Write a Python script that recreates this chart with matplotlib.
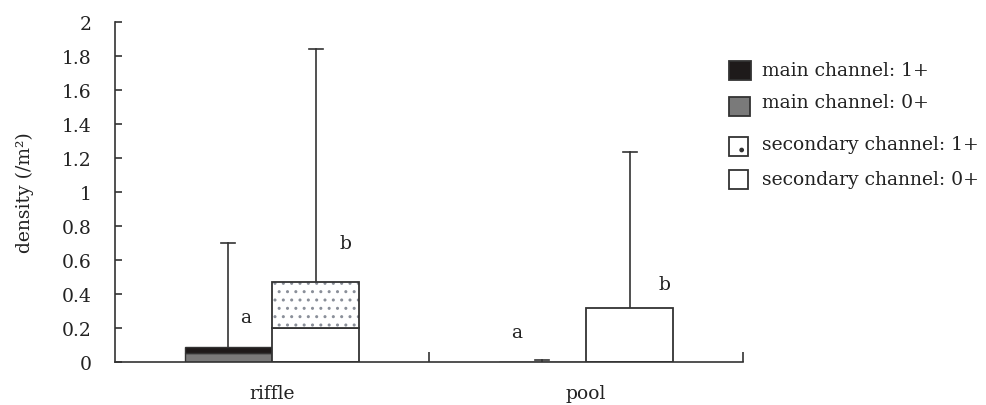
import matplotlib
matplotlib.use("Agg")
import matplotlib.pyplot as plt
from matplotlib.patches import Rectangle
import numpy as np

plt.rcParams['font.family'] = ['DejaVu Serif']

# Fish density by habitat and channel type
habitats = ["riffle", "pool"]
main_0plus = [0.055, 0.0]
main_1plus = [0.035, 0.0]
main_err_top = [0.70, 0.012]
sec_0plus = [0.20, 0.316]
sec_1plus = [0.27, 0.0]
sec_err_top = [1.84, 1.235]

# significance letters: (x offset from group centre, y)
letters_main = ["a", "a"]
letters_sec = ["b", "b"]
letter_main_pos = [(-0.083, 0.265), (-0.221, 0.176)]
letter_sec_pos = [(0.235, 0.70), (0.25, 0.46)]

legend_labels = ["main channel: 1+", "main channel: 0+",
                 "secondary channel: 1+", "secondary channel: 0+"]
y_ticks = [0, 0.2, 0.4, 0.6, 0.8, 1, 1.2, 1.4, 1.6, 1.8, 2]
y_tick_labels = ["0", "0.2", "0.4", "0.6", "0.8", "1", "1.2", "1.4", "1.6", "1.8", "2"]

ink = "#222222"
line = "#333333"
fs = 13.5

fig = plt.figure(figsize=(9.87, 4.06), dpi=100)
ax = fig.add_axes([115 / 987, 43 / 406, (743 - 115) / 987, (363 - 23) / 406])

centers = np.arange(len(habitats)) + 0.5
w = 0.278
off = 0.139
xm = centers - off
xs = centers + off

main_0plus = np.array(main_0plus)
main_1plus = np.array(main_1plus)
sec_0plus = np.array(sec_0plus)
sec_1plus = np.array(sec_1plus)

# main channel
ax.bar(xm, main_0plus, w, color="#7a7a7a", edgecolor=line, linewidth=1.0, zorder=2)
ax.bar(xm, main_1plus, w, bottom=main_0plus, color="#1e1a1a", edgecolor=line,
       linewidth=1.0, zorder=2)
# secondary channel
ax.bar(xs, sec_0plus, w, color="white", edgecolor=line, linewidth=1.3, zorder=2)
has_1plus = sec_1plus > 0
ax.bar(xs[has_1plus], sec_1plus[has_1plus], w, bottom=sec_0plus[has_1plus],
       color="white", edgecolor="#8a8f99", linewidth=0, hatch="..", zorder=2)
ax.bar(xs[has_1plus], sec_1plus[has_1plus], w, bottom=sec_0plus[has_1plus],
       color="none", edgecolor=line, linewidth=1.3, zorder=3)

# upper error bars
main_tot = main_0plus + main_1plus
sec_tot = sec_0plus + sec_1plus
for x, lo, hi in zip(xm, main_tot, main_err_top):
    ax.plot([x, x], [lo, hi], color=line, lw=1.2, zorder=1)
    ax.plot([x - 0.022, x + 0.022], [hi, hi], color=line, lw=1.2, zorder=1)
for x, lo, hi in zip(xs, sec_tot, sec_err_top):
    ax.plot([x, x], [lo, hi], color=line, lw=1.2, zorder=1)
    ax.plot([x - 0.022, x + 0.022], [hi, hi], color=line, lw=1.2, zorder=1)

for c, t, (dx, y) in zip(centers, letters_main, letter_main_pos):
    ax.text(c + dx, y, t, ha="center", va="center", fontsize=fs, color=ink)
for c, t, (dx, y) in zip(centers, letters_sec, letter_sec_pos):
    ax.text(c + dx, y, t, ha="center", va="center", fontsize=fs, color=ink)

ax.set_xlim(0, len(habitats))
ax.set_ylim(0, 2)
ax.set_yticks(y_ticks)
ax.set_yticklabels(y_tick_labels)
ax.set_xticks([1, 2])
ax.set_xticklabels([])
ax.set_xticks(centers, minor=True)
ax.set_xticklabels(habitats, minor=True)
ax.tick_params(axis="x", which="major", direction="in", length=7, width=1.2, color=line)
ax.tick_params(axis="x", which="minor", length=0, pad=16, labelsize=fs, labelcolor=ink)
ax.tick_params(axis="y", direction="in", length=5, width=1.2, color=line, pad=17,
               labelsize=fs, labelcolor=ink)
for s in ["top", "right"]:
    ax.spines[s].set_visible(False)
for s in ["left", "bottom"]:
    ax.spines[s].set_color(line)
    ax.spines[s].set_linewidth(1.2)
ax.set_ylabel("density (/m²)", fontsize=fs, color=ink, labelpad=20)

# legend drawn in figure pixel space
H = 406.0
entries = [
    dict(box=(729, 62, 22, 19), fc="#1e1a1a", hatch=None, ty=71),
    dict(box=(729, 98, 21, 19), fc="#7a7a7a", hatch=None, ty=103),
    dict(box=(729, 138, 19, 19), fc="white", hatch=".", ty=145),
    dict(box=(729, 171, 19, 19), fc="white", hatch=None, ty=180),
]
for e, lab in zip(entries, legend_labels):
    x0, y0, bw, bh = e["box"]
    fig.patches.append(Rectangle((x0 / 987, (H - y0 - bh) / H), bw / 987, bh / H,
                                 transform=fig.transFigure, facecolor=e["fc"],
                                 edgecolor=line, linewidth=1.3, hatch=e["hatch"]))
    fig.text(762 / 987, (H - e["ty"]) / H, lab, fontsize=fs, color=ink,
             ha="left", va="center")

fig.savefig("out.png", dpi=100)
